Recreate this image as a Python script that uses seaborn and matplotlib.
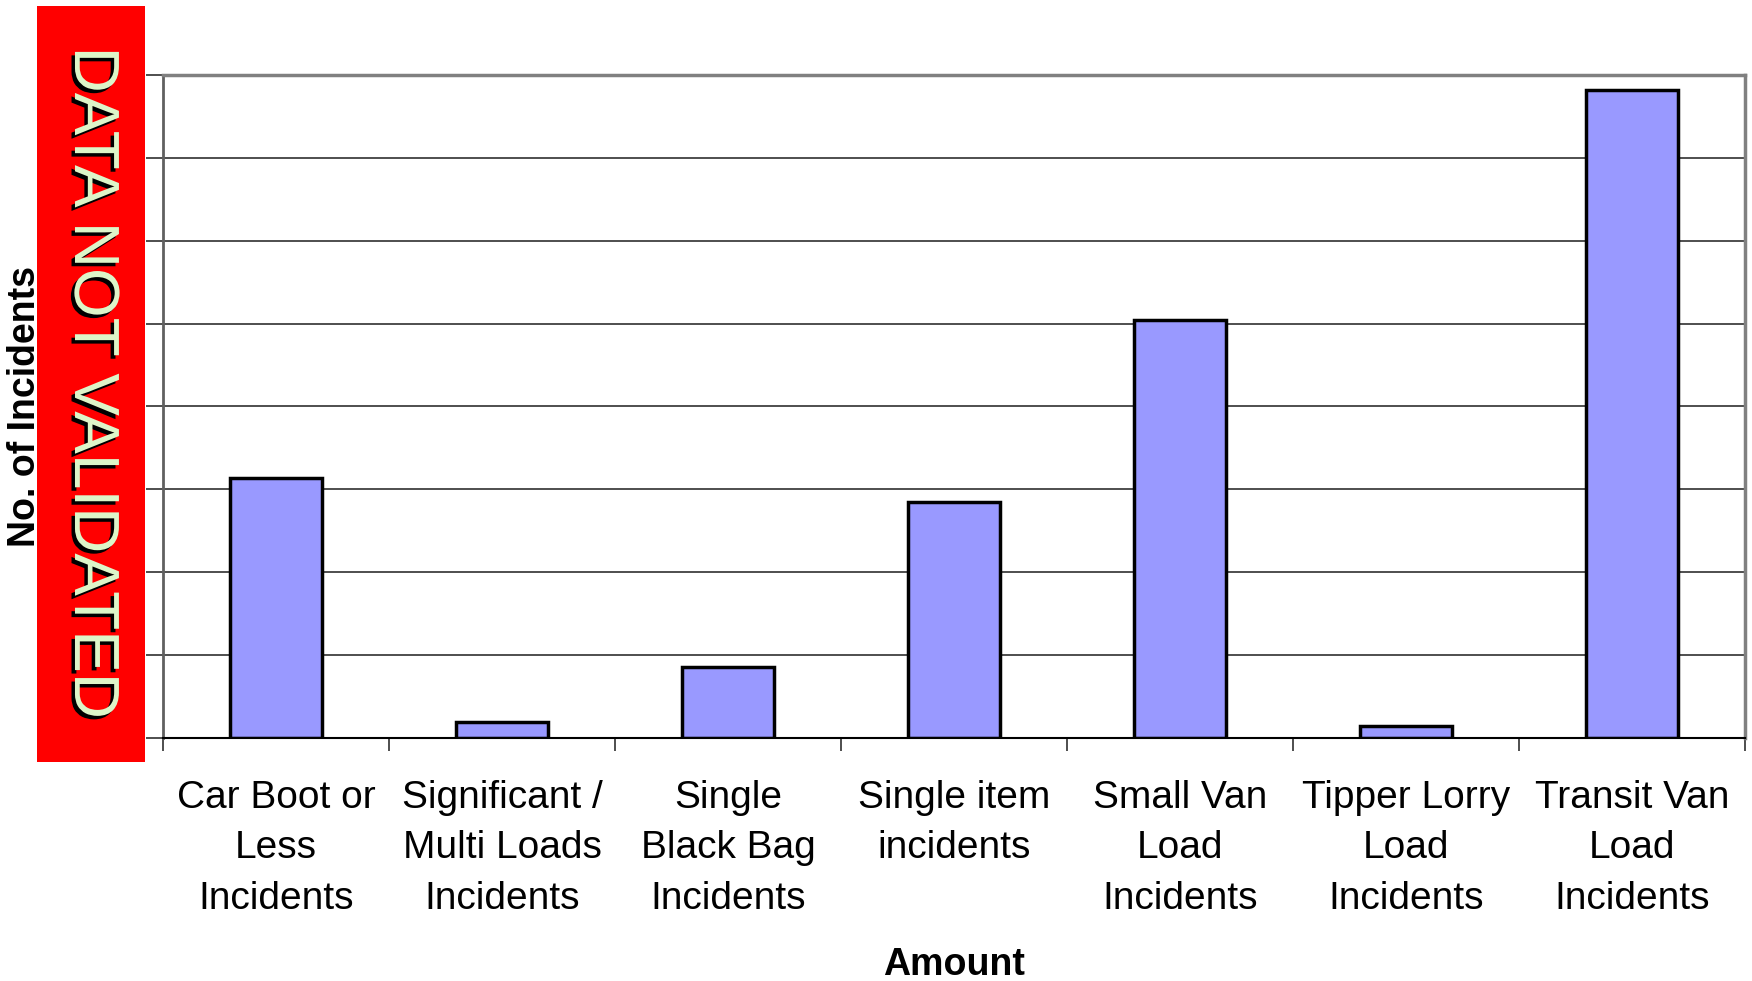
import matplotlib
matplotlib.use("Agg")
import matplotlib.pyplot as plt
import matplotlib.patheffects as pe
from matplotlib.patches import Rectangle
import seaborn as sns
import pandas as pd

# Data (units = gridline steps x 10)
categories = [
    "Car Boot or\nLess\nIncidents",
    "Significant /\nMulti Loads\nIncidents",
    "Single\nBlack Bag\nIncidents",
    "Single item\nincidents",
    "Small Van\nLoad\nIncidents",
    "Tipper Lorry\nLoad\nIncidents",
    "Transit Van\nLoad\nIncidents",
]
incidents = [31.4, 1.9, 8.6, 28.5, 50.4, 1.5, 78.2]
y_ticks = [0, 10, 20, 30, 40, 50, 60, 70, 80]

df = pd.DataFrame({"Amount": categories, "Incidents": incidents})

sns.set_style("white")
plt.rcParams["font.family"] = ["Liberation Sans", "DejaVu Sans"]
plt.rcParams["text.color"] = "black"
plt.rcParams["axes.labelcolor"] = "black"
plt.rcParams["xtick.labelcolor"] = "black"

fig = plt.figure(figsize=(17.52, 9.81), dpi=100)
ax = fig.add_axes([0.093, 0.2477, 0.903, 0.676])

sns.barplot(data=df, x="Amount", y="Incidents", color="#9999FF",
            saturation=1, width=0.41, edgecolor="black", linewidth=2.5, ax=ax)

ax.set_ylim(0, 80)
ax.set_xlim(-0.5, len(categories) - 0.5)
ax.set_yticks(y_ticks)
ax.set_yticklabels([])
ax.yaxis.grid(True, color="#404040", linewidth=1.3)
ax.set_axisbelow(True)

# category labels at centres, tick marks at boundaries
ax.set_xticks(range(len(categories)))
ax.set_xticklabels(categories, fontsize=28, linespacing=1.52, color="black")
ax.tick_params(axis="x", length=0, pad=30)
ax.set_xticks([i - 0.5 for i in range(len(categories) + 1)], minor=True)
ax.tick_params(axis="x", which="minor", length=9, width=1.3, color="#404040", bottom=True)
ax.tick_params(axis="y", length=12, width=1.3, color="#404040", left=True)

for side in ["top", "right"]:
    ax.spines[side].set_color("#808080")
    ax.spines[side].set_linewidth(2.5)
ax.spines["left"].set_color("#606060")
ax.spines["left"].set_linewidth(2)
ax.spines["bottom"].set_color("black")
ax.spines["bottom"].set_linewidth(1.5)

ax.set_xlabel("Amount", fontsize=27, fontweight="bold", va="center", color="black")
ax.xaxis.set_label_coords(0.5, -0.342)
ax.set_ylabel("No. of Incidents", fontsize=27, fontweight="bold", va="center", color="black")
ax.yaxis.set_label_coords(-0.087, 0.5)

# red "data not validated" banner over the y label
fig.patches.append(Rectangle((0.021, 0.223), 0.062, 0.771, transform=fig.transFigure,
                             facecolor="#FF0000", edgecolor="none", zorder=5))
fig.text(0.0525, 0.61, "DATA NOT VALIDATED", rotation=-90, ha="center", va="center",
         fontsize=46, color="#DDF5C8", zorder=6,
         path_effects=[pe.withSimplePatchShadow(offset=(-2.5, -2.5), shadow_rgbFace="black", alpha=1.0)])

fig.savefig("out.png", dpi=100)
